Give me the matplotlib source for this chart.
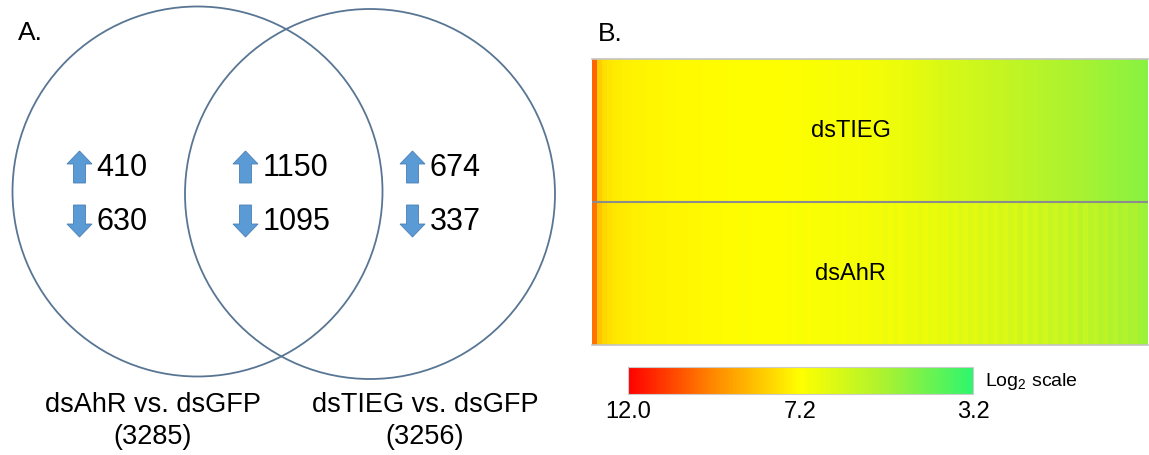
import matplotlib
matplotlib.use('Agg')
import matplotlib.pyplot as plt
import numpy as np
from matplotlib.colors import LinearSegmentedColormap, TwoSlopeNorm
from matplotlib.patches import Circle
from matplotlib.cm import ScalarMappable

plt.rcParams['font.family'] = ['Liberation Sans', 'DejaVu Sans']
plt.rcParams['mathtext.fontset'] = 'custom'
plt.rcParams['mathtext.rm'] = 'Liberation Sans'

# --- panel A: Venn counts ---
set_names = ['dsAhR vs. dsGFP', 'dsTIEG vs. dsGFP']
set_totals = [3285, 3256]
# regions: dsAhR only, shared, dsTIEG only
region_up = [410, 1150, 674]
region_down = [630, 1095, 337]

# --- panel B: log2 expression, genes sorted ---
row_names = ['dsTIEG', 'dsAhR']
dstieg = [10.2, 8.2, 7.85, 7.7, 7.6, 7.55, 7.5, 7.48, 7.45, 7.42,
          7.4, 7.38, 7.36, 7.35, 7.34, 7.33, 7.32, 7.31, 7.3, 7.3,
          7.29, 7.28, 7.27, 7.26, 7.25, 7.25, 7.24, 7.23, 7.22, 7.22,
          7.21, 7.2, 7.2, 7.2, 7.19, 7.19, 7.18, 7.17, 7.16, 7.15,
          7.15, 7.14, 7.13, 7.12, 7.1, 7.1, 7.08, 7.06, 7.05, 7.04,
          7.03, 7.02, 7.0, 7.0, 6.98, 6.95, 6.93, 6.9, 6.88, 6.85,
          6.82, 6.78, 6.72, 6.68, 6.62, 6.56, 6.5, 6.45, 6.4, 6.35,
          6.3, 6.26, 6.22, 6.18, 6.14, 6.1, 6.06, 6.02, 5.98, 5.94,
          5.9, 5.86, 5.82, 5.78, 5.74, 5.7, 5.66, 5.62, 5.58, 5.54,
          5.5, 5.46, 5.42, 5.38, 5.34, 5.3, 5.26, 5.22, 5.18, 5.14,
          5.1, 5.06, 5.02, 4.98, 4.94, 4.9, 4.86, 4.82, 4.78, 4.74, 4.7]
dsahr = [10.0, 8.4, 8.0, 7.8, 7.7, 7.62, 7.58, 7.55, 7.52, 7.5,
         7.48, 7.46, 7.44, 7.42, 7.4, 7.38, 7.37, 7.36, 7.35, 7.34,
         7.33, 7.32, 7.31, 7.3, 7.29, 7.28, 7.27, 7.26, 7.25, 7.24,
         7.1, 7.24, 7.22, 7.2, 7.21, 7.18, 7.2, 7.17, 7.16, 7.12,
         7.15, 7.1, 7.1, 7.14, 7.1, 7.05, 7.1, 7.05, 7.05, 7.0,
         7.05, 7.0, 7.0, 6.95, 7.0, 6.95, 6.9, 6.95, 6.85, 6.9,
         6.85, 6.9, 6.8, 6.75, 6.85, 6.7, 6.8, 6.65, 6.75, 6.6,
         6.7, 6.5, 6.65, 6.45, 6.6, 6.4, 6.55, 6.35, 6.5, 6.3,
         6.45, 6.2, 6.4, 6.15, 6.35, 6.05, 6.3, 6.0, 6.2, 5.95,
         6.15, 5.85, 6.05, 5.8, 6.0, 5.7, 5.95, 5.65, 5.85, 5.6,
         5.75, 5.5, 5.65, 5.4, 5.55, 5.3, 5.45, 5.2, 5.3, 5.1, 5.0]
scale_ticks = [12.0, 7.2, 3.2]

W, H = 1149, 456
fig = plt.figure(figsize=(W / 100, H / 100), dpi=100)

# Venn panel, laid out in pixel units
ax = fig.add_axes([0, 0, 580 / W, 1])
ax.set_xlim(0, 580)
ax.set_ylim(H, 0)
ax.axis('off')

line_col = '#587694'
ax.add_patch(Circle((197.5, 192.5), 185, fill=False, ec=line_col, lw=1.3))
ax.add_patch(Circle((370, 195), 185, fill=False, ec=line_col, lw=1.3))

arrow_x = [79.5, 245.5, 412.5]
for cx, up, down in zip(arrow_x, region_up, region_down):
    ax.arrow(cx, 184, 0, -32, width=12, head_width=25, head_length=13,
             length_includes_head=True, fc='#5b9bd5', ec='#4a7fb5', lw=0.6)
    ax.arrow(cx, 206, 0, 32, width=12, head_width=25, head_length=13,
             length_includes_head=True, fc='#5b9bd5', ec='#4a7fb5', lw=0.6)
    ax.text(cx + 17, 168, str(up), fontsize=22, ha='left', va='center')
    ax.text(cx + 17, 222, str(down), fontsize=22, ha='left', va='center')

label_x = [153, 425]
for lx, name, tot in zip(label_x, set_names, set_totals):
    ax.text(lx, 405, name, fontsize=19.5, ha='center', va='center')
    ax.text(lx, 437, f'({tot})', fontsize=19.5, ha='center', va='center')

ax.text(18, 33, 'A.', fontsize=19, ha='left', va='center')
fig.text(598 / W, 1 - 34 / H, 'B.', fontsize=19, ha='left', va='center')

# heatmap panel
cmap = LinearSegmentedColormap.from_list(
    'gyr', [(0, '#2ef56e'), (0.25, '#a8f232'), (0.5, '#ffff00'),
            (0.75, '#ff8a00'), (1, '#ff0000')])
norm = TwoSlopeNorm(vmin=3.2, vcenter=7.2, vmax=12.0)

hm = fig.add_axes([592 / W, 1 - 346 / H, 556 / W, 286 / H])
data = np.array([dstieg, dsahr])
n = data.shape[1]
hm.imshow(data, cmap=cmap, norm=norm, aspect='auto', interpolation='nearest',
          extent=(0, n, 2, 0))
hm.axhline(1, color='#8c8c8c', lw=1.5)
hm.set_xticks([])
hm.set_yticks([])
for side in ['left', 'right']:
    hm.spines[side].set_visible(False)
for side in ['top', 'bottom']:
    hm.spines[side].set_color('#c4c4c4')
    hm.spines[side].set_linewidth(1.2)
for i, name in enumerate(row_names):
    hm.text(n * 0.465, i + 0.5, name, fontsize=17, ha='center', va='center')

# colour key
cax = fig.add_axes([628 / W, 1 - 395 / H, 345 / W, 27 / H])
cb = fig.colorbar(ScalarMappable(norm=norm, cmap=cmap), cax=cax,
                  orientation='horizontal', ticks=scale_ticks)
cax.invert_xaxis()
cb.set_ticklabels([f'{t:.1f}' for t in scale_ticks])
cax.tick_params(length=0, labelsize=17, pad=4)
cb.outline.set_edgecolor('#cccccc')
cb.outline.set_linewidth(0.8)
fig.text(985 / W, 1 - 382 / H, r'Log$_\mathregular{2}$ scale', fontsize=14,
         ha='left', va='center')

fig.savefig('out.png', dpi=100)
